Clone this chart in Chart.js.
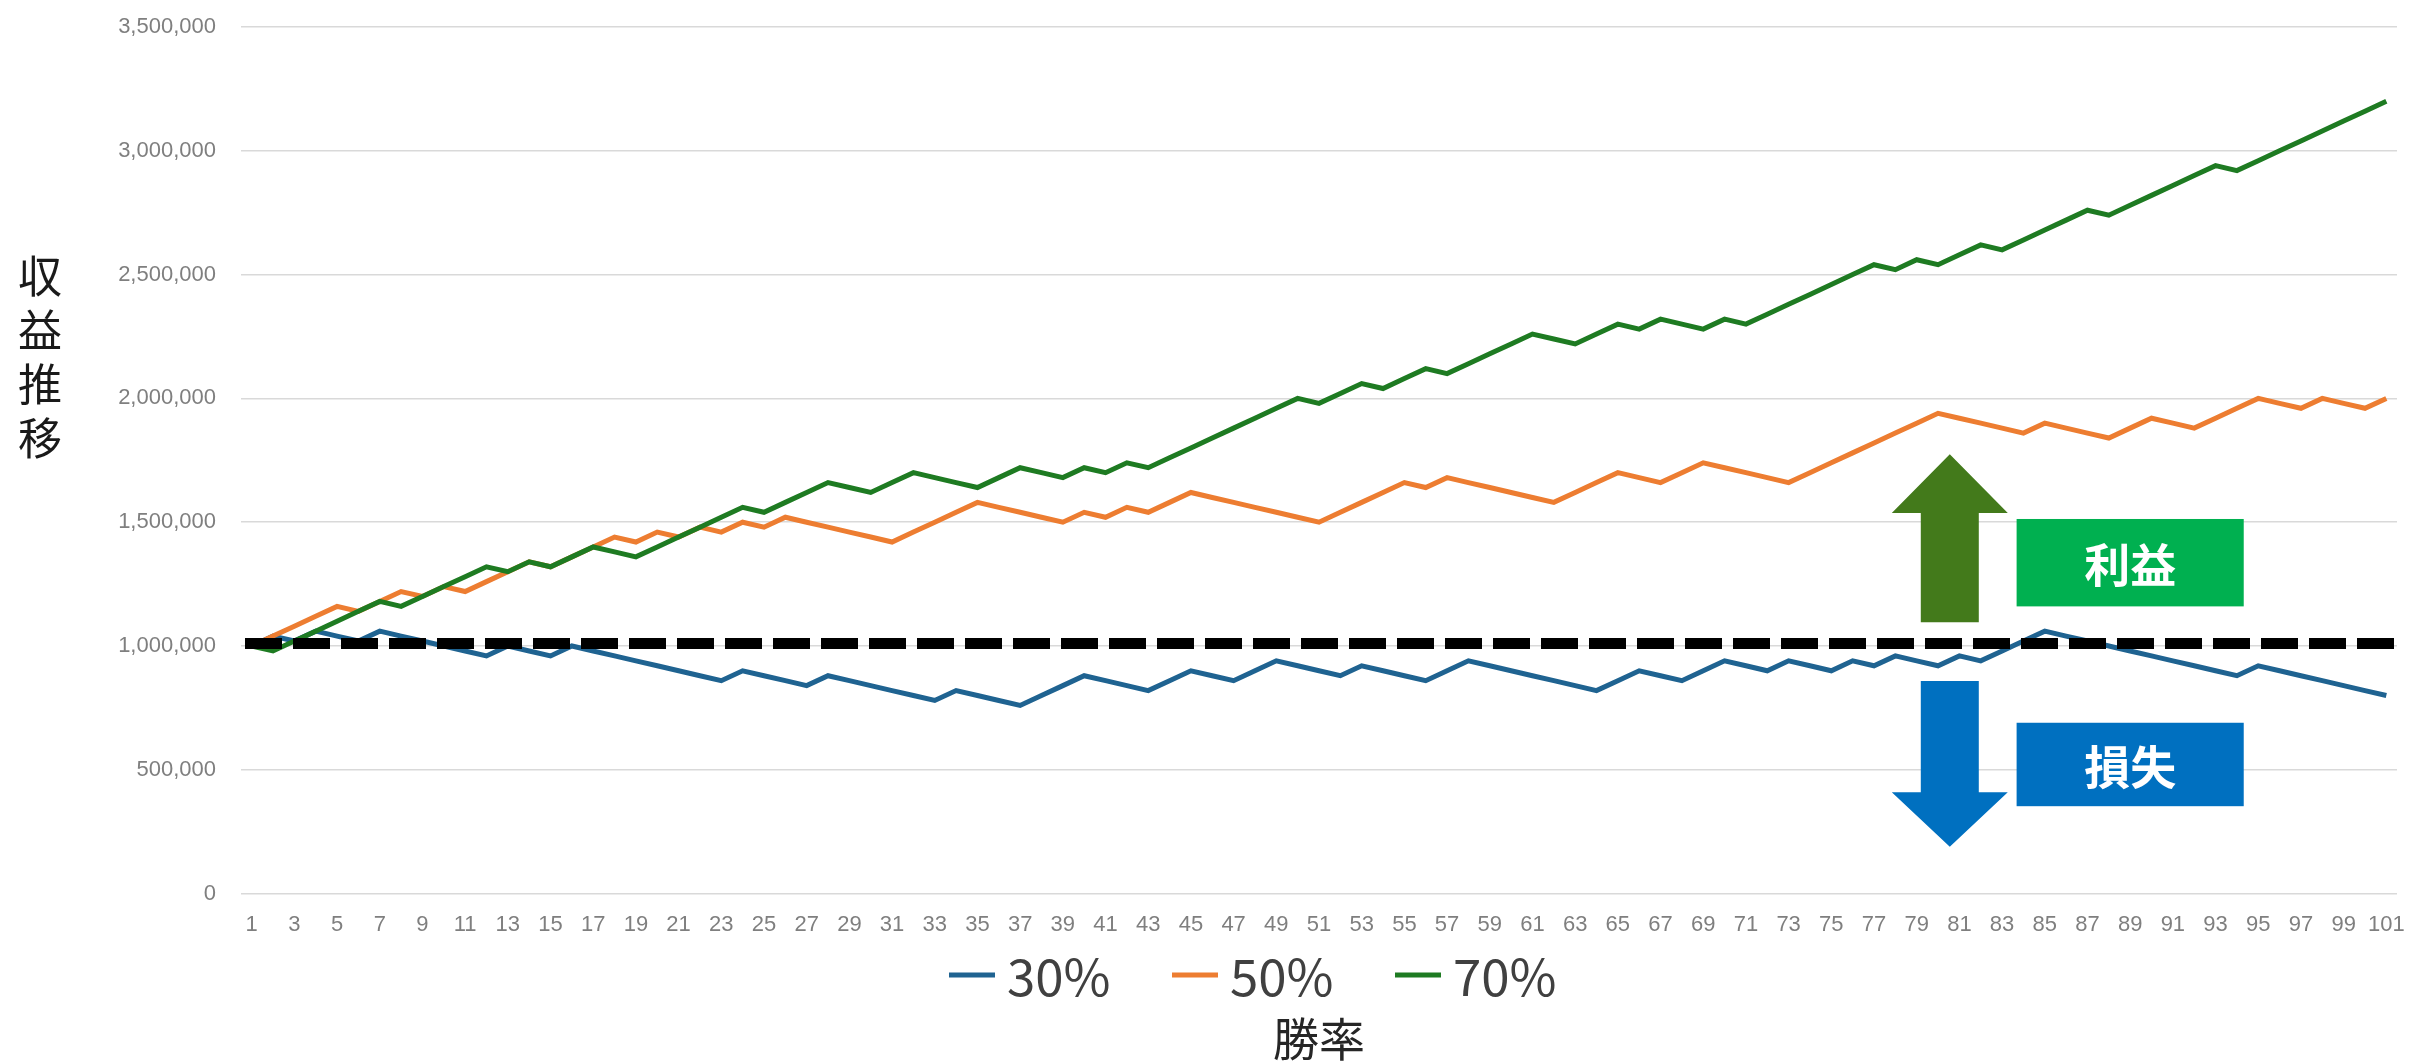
<!DOCTYPE html>
<html>
<head>
<meta charset="utf-8">
<script src="https://cdn.jsdelivr.net/npm/chart.js@4.4.1/dist/chart.umd.min.js"></script>
<style>
  html, body { margin: 0; padding: 0; background: #fff; }
  #wrap { width: 2409px; height: 1062px; position: relative; }
</style>
</head>
<body>
<div id="wrap"><canvas id="myChart"></canvas></div>
<script>
// 試行回数 (1〜101)
var categories = [
  1, 2, 3, 4, 5, 6, 7, 8, 9, 10, 11, 12, 13, 14, 15, 16, 17, 18, 19, 20,
  21, 22, 23, 24, 25, 26, 27, 28, 29, 30, 31, 32, 33, 34, 35, 36, 37, 38, 39, 40,
  41, 42, 43, 44, 45, 46, 47, 48, 49, 50, 51, 52, 53, 54, 55, 56, 57, 58, 59, 60,
  61, 62, 63, 64, 65, 66, 67, 68, 69, 70, 71, 72, 73, 74, 75, 76, 77, 78, 79, 80,
  81, 82, 83, 84, 85, 86, 87, 88, 89, 90, 91, 92, 93, 94, 95, 96, 97, 98, 99, 100, 101
];

var seriesLabels = ['30%', '50%', '70%'];

var win30 = [
  1000000, 1040000, 1020000, 1060000, 1040000, 1020000, 1060000, 1040000, 1020000, 1000000,
  980000, 960000, 1000000, 980000, 960000, 1000000, 980000, 960000, 940000, 920000,
  900000, 880000, 860000, 900000, 880000, 860000, 840000, 880000, 860000, 840000,
  820000, 800000, 780000, 820000, 800000, 780000, 760000, 800000, 840000, 880000,
  860000, 840000, 820000, 860000, 900000, 880000, 860000, 900000, 940000, 920000,
  900000, 880000, 920000, 900000, 880000, 860000, 900000, 940000, 920000, 900000,
  880000, 860000, 840000, 820000, 860000, 900000, 880000, 860000, 900000, 940000,
  920000, 900000, 940000, 920000, 900000, 940000, 920000, 960000, 940000, 920000,
  960000, 940000, 980000, 1020000, 1060000, 1040000, 1020000, 1000000, 980000, 960000,
  940000, 920000, 900000, 880000, 920000, 900000, 880000, 860000, 840000, 820000,
  800000
];

var win50 = [
  1000000, 1040000, 1080000, 1120000, 1160000, 1140000, 1180000, 1220000, 1200000, 1240000,
  1220000, 1260000, 1300000, 1340000, 1320000, 1360000, 1400000, 1440000, 1420000, 1460000,
  1440000, 1480000, 1460000, 1500000, 1480000, 1520000, 1500000, 1480000, 1460000, 1440000,
  1420000, 1460000, 1500000, 1540000, 1580000, 1560000, 1540000, 1520000, 1500000, 1540000,
  1520000, 1560000, 1540000, 1580000, 1620000, 1600000, 1580000, 1560000, 1540000, 1520000,
  1500000, 1540000, 1580000, 1620000, 1660000, 1640000, 1680000, 1660000, 1640000, 1620000,
  1600000, 1580000, 1620000, 1660000, 1700000, 1680000, 1660000, 1700000, 1740000, 1720000,
  1700000, 1680000, 1660000, 1700000, 1740000, 1780000, 1820000, 1860000, 1900000, 1940000,
  1920000, 1900000, 1880000, 1860000, 1900000, 1880000, 1860000, 1840000, 1880000, 1920000,
  1900000, 1880000, 1920000, 1960000, 2000000, 1980000, 1960000, 2000000, 1980000, 1960000,
  2000000
];

var win70 = [
  1000000, 980000, 1020000, 1060000, 1100000, 1140000, 1180000, 1160000, 1200000, 1240000,
  1280000, 1320000, 1300000, 1340000, 1320000, 1360000, 1400000, 1380000, 1360000, 1400000,
  1440000, 1480000, 1520000, 1560000, 1540000, 1580000, 1620000, 1660000, 1640000, 1620000,
  1660000, 1700000, 1680000, 1660000, 1640000, 1680000, 1720000, 1700000, 1680000, 1720000,
  1700000, 1740000, 1720000, 1760000, 1800000, 1840000, 1880000, 1920000, 1960000, 2000000,
  1980000, 2020000, 2060000, 2040000, 2080000, 2120000, 2100000, 2140000, 2180000, 2220000,
  2260000, 2240000, 2220000, 2260000, 2300000, 2280000, 2320000, 2300000, 2280000, 2320000,
  2300000, 2340000, 2380000, 2420000, 2460000, 2500000, 2540000, 2520000, 2560000, 2540000,
  2580000, 2620000, 2600000, 2640000, 2680000, 2720000, 2760000, 2740000, 2780000, 2820000,
  2860000, 2900000, 2940000, 2920000, 2960000, 3000000, 3040000, 3080000, 3120000, 3160000,
  3200000
];

var baseLine = 1010000;   // 元本ライン (点線)
var yMax = 3500000;
var yStep = 500000;

Chart.defaults.font.family = "'Liberation Sans', 'Noto Sans CJK JP', sans-serif";

// 矢印
function drawArrow(c, cx, y0, y1, y2, color) {
    var sw = 29, hw = 58;
    c.fillStyle = color;
    c.beginPath();
    c.moveTo(cx - sw, y0);
    c.lineTo(cx - sw, y1);
    c.lineTo(cx - hw, y1);
    c.lineTo(cx, y2);
    c.lineTo(cx + hw, y1);
    c.lineTo(cx + sw, y1);
    c.lineTo(cx + sw, y0);
    c.closePath();
    c.fill();
}

function drawBox(c, x0, x1, yt, yb, color, text) {
    c.fillStyle = color;
    c.fillRect(x0, yt, x1 - x0, yb - yt);
    c.fillStyle = '#fff';
    c.font = "bold 46px 'Noto Sans CJK JP'";
    c.textAlign = 'center';
    c.textBaseline = 'middle';
    c.fillText(text, (x0 + x1) / 2, (yt + yb) / 2 + 2);
}

var deco = {
    id: 'deco',
    afterDatasetsDraw: function (chart) {
        var c = chart.ctx, xs = chart.scales.x, ys = chart.scales.y, a = chart.chartArea;
        c.save();

        // 点線
        var yb = ys.getPixelForValue(baseLine);
        c.setLineDash([37, 11]);
        c.lineWidth = 11;
        c.strokeStyle = '#000';
        c.beginPath();
        c.moveTo(a.left + 4, yb);
        c.lineTo(a.right, yb);
        c.stroke();
        c.setLineDash([]);

        // 利益 / 損失
        var ax = xs.getPixelForValue(79.55);
        drawArrow(c, ax, ys.getPixelForValue(1096000), ys.getPixelForValue(1537000), ys.getPixelForValue(1774000), '#437a1b');
        drawArrow(c, ax, ys.getPixelForValue(859000), ys.getPixelForValue(409000), ys.getPixelForValue(189000), '#0070c0');
        var bx0 = xs.getPixelForValue(82.68), bx1 = xs.getPixelForValue(93.32);
        drawBox(c, bx0, bx1, ys.getPixelForValue(1513000), ys.getPixelForValue(1160000), '#00b050', '利益');
        drawBox(c, bx0, bx1, ys.getPixelForValue(690000), ys.getPixelForValue(353000), '#0070c0', '損失');

        // 縦書きの軸タイトル
        var t = '収益推移';
        c.fillStyle = '#1a1a1a';
        c.font = "44px 'Noto Sans CJK JP'";
        c.textAlign = 'center';
        c.textBaseline = 'middle';
        for (var i = 0; i < t.length; i++) {
            c.fillText(t[i], 40, 276 + i * 54);
        }

        // 凡例
        var ly = 975;
        chart.data.datasets.forEach(function (ds, k) {
            var lx = 949 + k * 223;
            c.strokeStyle = ds.borderColor;
            c.lineWidth = 5;
            c.beginPath();
            c.moveTo(lx, ly);
            c.lineTo(lx + 46, ly);
            c.stroke();
            c.fillStyle = '#404040';
            c.font = "51px 'Noto Sans CJK JP'";
            c.textAlign = 'left';
            c.textBaseline = 'middle';
            c.fillText(ds.label, lx + 58, ly + 2);
        });
        c.restore();
    }
};

var ctx = document.getElementById('myChart').getContext('2d');
var myChart = new Chart(ctx, {
    type: 'line',
    data: {
        labels: categories,
        datasets: [{
            label: seriesLabels[0],
            data: win30,
            borderColor: '#1f6391',
            backgroundColor: '#1f6391',
            borderWidth: 5,
            pointRadius: 0,
            order: 2
        }, {
            label: seriesLabels[1],
            data: win50,
            borderColor: '#ed7d31',
            backgroundColor: '#ed7d31',
            borderWidth: 5,
            pointRadius: 0,
            order: 1
        }, {
            label: seriesLabels[2],
            data: win70,
            borderColor: '#1e7b22',
            backgroundColor: '#1e7b22',
            borderWidth: 5,
            pointRadius: 0,
            order: 0
        }]
    },
    options: {
        responsive: true,
        maintainAspectRatio: false,
        animation: false,
        layout: {
            padding: { top: 27, right: 12, left: 0, bottom: 0 }
        },
        plugins: {
            legend: { display: false },
            tooltip: { enabled: false }
        },
        scales: {
            x: {
                offset: true,
                grid: { display: false, drawTicks: false },
                border: { display: false },
                ticks: {
                    autoSkip: false,
                    maxRotation: 0,
                    padding: 18,
                    color: '#7f7f7f',
                    font: { size: 22 },
                    callback: function (v, i) {
                        return i % 2 === 0 ? categories[i] : '';
                    }
                },
                title: {
                    display: true,
                    text: '勝率',
                    color: '#262626',
                    font: { size: 46, family: "'Noto Sans CJK JP'", lineHeight: 1 },
                    padding: { top: 60, bottom: 0 }
                },
                afterFit: function (s) {
                    s.paddingLeft = 0;
                    s.paddingRight = 0;
                }
            },
            y: {
                min: 0,
                max: yMax,
                grid: { color: '#d9d9d9', lineWidth: 1.5, drawTicks: false },
                border: { display: false },
                ticks: {
                    stepSize: yStep,
                    padding: 25,
                    color: '#7f7f7f',
                    font: { size: 22 },
                    callback: function (v) {
                        return v.toLocaleString('en-US');
                    }
                },
                afterFit: function (s) {
                    s.width = 241;
                    s.paddingTop = 0;
                    s.paddingBottom = 0;
                }
            }
        }
    },
    plugins: [deco]
});
</script>
</body>
</html>
